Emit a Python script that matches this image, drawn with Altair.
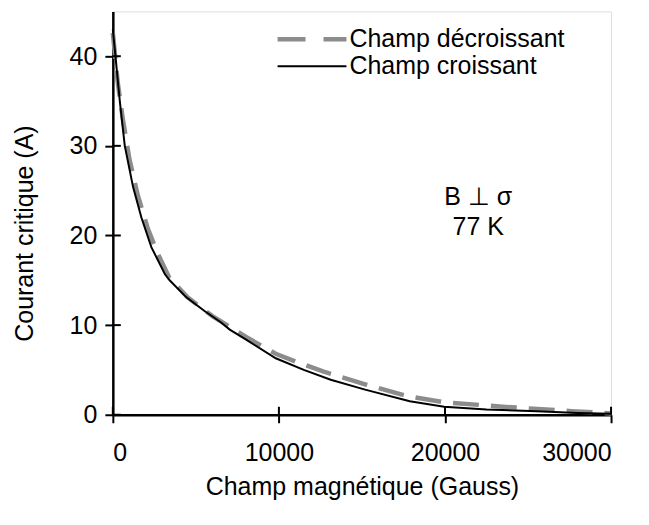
import altair as alt
import pandas as pd

# Champ croissant (solid black)
x_up = [0, 420, 720, 1220, 1720, 2320, 3130, 3420, 4430, 5500, 6520, 7040, 8000,
        9810, 11500, 13120, 15190, 17880, 19950, 22500, 25540, 28000, 30000]
y_up = [43.0, 35.0, 30.0, 25.4, 22.0, 18.7, 15.7, 15.0, 13.1, 11.6, 10.3, 9.5, 8.4,
        6.3, 5.0, 3.9, 2.8, 1.5, 0.9, 0.6, 0.4, 0.2, 0.1]

# Champ décroissant (dashed grey)
x_down = [0, 300, 600, 1000, 1500, 2100, 2700, 3400, 4500, 6000, 8000, 9810, 11200,
          12700, 15190, 17680, 19950, 23470, 27610, 30000]
y_down = [42.6, 37.0, 33.0, 28.5, 24.5, 20.8, 18.0, 15.3, 13.1, 11.0, 8.7, 6.8, 5.8,
          4.8, 3.4, 2.1, 1.4, 0.9, 0.4, 0.15]

series_names = ["Champ décroissant", "Champ croissant"]
x_ticks = [0, 10000, 20000, 30000]
y_ticks = [0, 10, 20, 30, 40]
annotation = ["B \u22a5 \u03c3", "77 K"]

FONT = "Liberation Sans"
FS = 25
W, H = 499, 404
GREY = "#8c8c8c"

df_up = pd.DataFrame({"x": x_up, "y": y_up})
df_down = pd.DataFrame({"x": x_down, "y": y_down})

xscale = alt.Scale(domain=[0, 30000], nice=False)
yscale = alt.Scale(domain=[0, 45], nice=False)

xaxis = alt.Axis(values=x_ticks, format="d", grid=False, domainColor="black", domainWidth=2.5,
                 tickColor="black", tickWidth=2, tickSize=8, labelFont=FONT, labelFontSize=FS,
                 labelColor="black", labelPadding=18, title="Champ magnétique (Gauss)",
                 titleFont=FONT, titleFontSize=FS, titleFontWeight="normal", titleColor="black",
                 titleY=72, titleBaseline="middle")
yaxis = alt.Axis(values=y_ticks, grid=False, domainColor="black", domainWidth=2.5,
                 tickColor="black", tickWidth=2, tickSize=8, labelFont=FONT, labelFontSize=FS,
                 labelColor="black", labelPadding=8, title="Courant critique (A)",
                 titleFont=FONT, titleFontSize=FS, titleFontWeight="normal", titleColor="black",
                 titleAngle=270, titleX=-88, titleY=222, titleAlign="center",
                 titleBaseline="middle")

down = alt.Chart(df_down).mark_line(color=GREY, strokeWidth=4.5, strokeDash=[26, 12]).encode(
    x=alt.X("x:Q", scale=xscale, axis=xaxis),
    y=alt.Y("y:Q", scale=yscale, axis=yaxis),
)
up = alt.Chart(df_up).mark_line(color="black", strokeWidth=2).encode(
    x=alt.X("x:Q", scale=xscale),
    y=alt.Y("y:Q", scale=yscale),
)

# inner halves of the crossing tick marks
yt = alt.Chart(pd.DataFrame({"v": y_ticks})).mark_rule(color="black", strokeWidth=2).encode(
    y=alt.Y("v:Q", scale=yscale), x=alt.value(0), x2=alt.value(8))
xt = alt.Chart(pd.DataFrame({"v": x_ticks})).mark_rule(color="black", strokeWidth=2).encode(
    x=alt.X("v:Q", scale=xscale), y=alt.value(H - 8), y2=alt.value(H))

# legend
leg_dash = alt.Chart(pd.DataFrame({"a": [0]})).mark_rule(
    color=GREY, strokeWidth=4.5, strokeDash=[28, 18]).encode(
    x=alt.value(165), x2=alt.value(234), y=alt.value(28))
leg_solid = alt.Chart(pd.DataFrame({"a": [0]})).mark_rule(color="black", strokeWidth=2).encode(
    x=alt.value(165), x2=alt.value(234), y=alt.value(55))
leg_t1 = alt.Chart(pd.DataFrame({"t": [series_names[0]]})).mark_text(
    font=FONT, fontSize=FS, align="left", baseline="middle", color="black").encode(
    text="t:N", x=alt.value(237), y=alt.value(28))
leg_t2 = alt.Chart(pd.DataFrame({"t": [series_names[1]]})).mark_text(
    font=FONT, fontSize=FS, align="left", baseline="middle", color="black").encode(
    text="t:N", x=alt.value(237), y=alt.value(55))

ann1 = alt.Chart(pd.DataFrame({"t": [annotation[0]]})).mark_text(
    font=FONT, fontSize=FS, align="center", baseline="middle", color="black").encode(
    text="t:N", x=alt.value(366), y=alt.value(186))
ann2 = alt.Chart(pd.DataFrame({"t": [annotation[1]]})).mark_text(
    font=FONT, fontSize=FS, align="center", baseline="middle", color="black").encode(
    text="t:N", x=alt.value(366), y=alt.value(216))

chart = alt.layer(down, up, yt, xt, leg_dash, leg_solid, leg_t1, leg_t2, ann1, ann2).properties(
    width=W, height=H,
    autosize=alt.AutoSizeParams(type="none"),
    padding={"left": 105, "top": 3, "right": 30, "bottom": 100},
).configure_view(stroke="black", strokeWidth=2).configure(background="white")

chart.save("out.html", embed_options={"renderer": "svg", "actions": False})
